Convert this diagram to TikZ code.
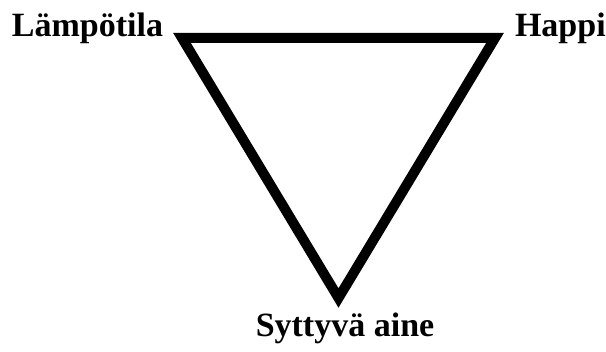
\documentclass[tikz,border=0pt]{standalone}
\usepackage{fontspec}
\setmainfont{Liberation Serif}
\tikzset{
  lbl/.style={inner sep=0pt, outer sep=0pt, font=\fontsize{34}{40}\selectfont\bfseries},
  tri/.style={line width=10pt, line join=miter, draw=black}
}
\begin{document}
\begin{tikzpicture}[x=1pt,y=-1pt]
\useasboundingbox (0,0) rectangle (606,352);
\coordinate (tl) at (182,38);
\coordinate (tr) at (495,38);
\coordinate (bt) at (338.5,298);
\draw[tri] (tl) -- (tr) -- (bt) -- cycle;
\node[lbl, anchor=base west] (lampo) at (12,37) {Lämpötila};
\node[lbl, anchor=base west] (happi) at (515,37) {Happi};
\node[lbl, anchor=base] (aine) at (345,337) {Syttyvä aine};
\end{tikzpicture}
\end{document}
